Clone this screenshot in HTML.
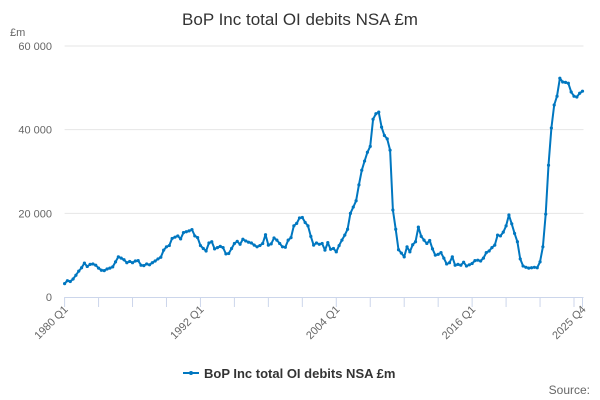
<!DOCTYPE html>
<html><head><meta charset="utf-8"><style>
html,body{margin:0;padding:0;background:#fff;}
svg{display:block;font-family:"Liberation Sans","DejaVu Sans",sans-serif;}
</style></head><body>
<svg id="chart" width="600" height="400" viewBox="0 0 600 400">
<text x="300" y="25" text-anchor="middle" font-size="17" fill="#333">BoP Inc total OI debits NSA £m</text>
<text x="10" y="36" font-size="11" fill="#666">£m</text>
<g id="grid"></g><g id="xaxis"></g><g id="series"></g>
<g>
<line x1="183" y1="373" x2="199" y2="373" stroke="#0077c0" stroke-width="2"/>
<circle cx="191" cy="373" r="2" fill="#0077c0"/>
<text x="204" y="378" font-size="13" font-weight="bold" fill="#333">BoP Inc total OI debits NSA £m</text>
</g>
<text x="590" y="394" text-anchor="end" font-size="12" fill="#666">Source:</text>
</svg>
<script>
const startYear = 1980;
const yTicks = [0, 20000, 40000, 60000];
const yTickLabels = ["0", "20 000", "40 000", "60 000"];
const xLabelIdx = [0, 48, 96, 144, 183];
const xLabels = ["1980 Q1", "1992 Q1", "2004 Q1", "2016 Q1", "2025 Q4"];
const values = [
3200,3900,3700,4300, 5200,6200,7000,8100, 7300,7800,7900,7600, 6900,6400,6300,6700,
6900,7200,8400,9600, 9300,8900,8200,8500, 8200,8600,8700,7600, 7500,7900,7700,8200,
8600,9100,9500,11200, 12000,12300,14000,14300, 14600,13900,15400,15600, 15800,16100,14600,14200,
12300,11600,11000,12900, 13200,11500,11800,12100, 11800,10300,10400,11600, 12800,13300,12600,13800,
13400,13100,12900,12400, 12000,12300,12800,14900, 12400,12700,14100,13600, 12800,12000,11900,13600,
14200,17000,17600,18900, 19000,17800,17000,14500, 12400,12900,12600,12800, 11200,13000,11400,11600,
10800,12300,13600,14800, 16200,20000,21500,23000, 26800,30300,32500,34600, 36000,42500,43800,44200,
40600,38600,37800,35100, 20800,16200,11300,10500, 9600,12000,10800,12500, 13200,16700,14500,13600,
12800,13500,11500,10000, 10200,10600,9300,7900, 8200,9600,7600,7800, 7600,8300,7400,7700,
8000,8700,8800,8600, 9300,10600,11000,11800, 12400,14800,14600,15500, 17000,19600,17500,15200,
13200,9100,7400,7100, 6900,7000,7100,7000, 8400,12000,19800,31500, 40400,45900,48000,52300,
51400,51300,51100,49000, 48000,47800,48700,49200
];
const NS="http://www.w3.org/2000/svg";
const X0=64.6, X1=582.5, Y0=297, Y1=46;
function xs(i){return X0+(X1-X0)*i/(values.length-1);}
function ys(v){return Y0-(Y0-Y1)*v/60000;}
function mk(t,a,p){const e=document.createElementNS(NS,t);for(const k in a)e.setAttribute(k,a[k]);p.appendChild(e);return e;}
const grid=document.getElementById('grid');
yTicks.forEach((v,i)=>{
  if(v>0){const l=mk('line',{x1:X0,x2:X1+1,y1:ys(v),y2:ys(v),stroke:'#e6e6e6','stroke-width':1},grid);
  
  }
  const t=mk('text',{x:52,y:ys(v)+4,'text-anchor':'end','font-size':11,fill:'#666'},grid);
  t.textContent=yTickLabels[i];
  
  
});
const xa=document.getElementById('xaxis');
const al=mk('line',{x1:X0,x2:X1+1,y1:Y0+0.5,y2:Y0+0.5,stroke:'#ccd6eb','stroke-width':1},xa);


const tickIdx=[];for(let i=0;i<values.length;i+=12)tickIdx.push(i);tickIdx.push(values.length-1);
tickIdx.forEach(i=>{const t=mk('line',{x1:xs(i),x2:xs(i),y1:Y0,y2:Y0+10,stroke:'#ccd6eb','stroke-width':1},xa);
  
  });
xLabelIdx.forEach((idx,k)=>{
  const x=xs(idx)+4,y=Y0+13;
  const t=mk('text',{x:x,y:y,'text-anchor':'end','font-size':11,fill:'#666',transform:`rotate(-45 ${x} ${y})`},xa);
  t.textContent=xLabels[k];
  
  
});
const s=document.getElementById('series');
const pts=values.map((v,i)=>xs(i).toFixed(1)+','+ys(v).toFixed(1)).join(' ');
const pl=mk('polyline',{points:pts,fill:'none',stroke:'#0077c0','stroke-width':2,'stroke-linejoin':'round'},s);


values.forEach((v,i)=>{const c=mk('circle',{cx:xs(i),cy:ys(v),r:1.6,fill:'#0077c0'},s);
  
  });
</script>
</body></html>
